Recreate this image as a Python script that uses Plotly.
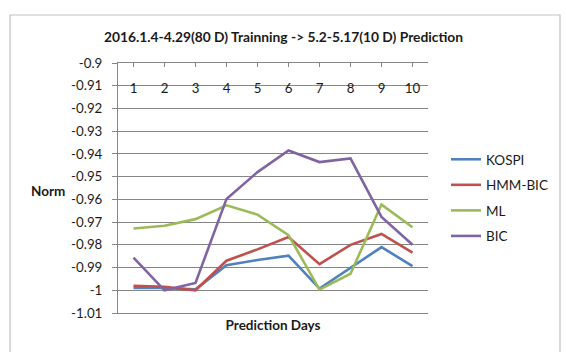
import plotly.graph_objects as go

days = [1, 2, 3, 4, 5, 6, 7, 8, 9, 10]
day_labels = ["1", "2", "3", "4", "5", "6", "7", "8", "9", "10"]
kospi = [-0.999, -0.999, -0.9996, -0.989, -0.9867, -0.9848, -0.9993, -0.990, -0.981, -0.9894]
hmm_bic = [-0.998, -0.9985, -1.0, -0.987, -0.982, -0.9766, -0.9885, -0.980, -0.9752, -0.9834]
ml = [-0.9728, -0.9716, -0.9687, -0.9626, -0.9667, -0.9757, -0.9997, -0.9927, -0.9623, -0.9723]
bic = [-0.9856, -1.0, -0.9968, -0.9598, -0.948, -0.9385, -0.9436, -0.942, -0.9677, -0.980]
y_ticks = [-0.9, -0.91, -0.92, -0.93, -0.94, -0.95, -0.96, -0.97, -0.98, -0.99, -1.0, -1.01]
y_tick_labels = ["-0.9", "-0.91", "-0.92", "-0.93", "-0.94", "-0.95", "-0.96", "-0.97",
                 "-0.98", "-0.99", "-1", "-1.01"]

series = [("KOSPI", kospi, "#4F81BD"), ("HMM-BIC", hmm_bic, "#C0504D"),
          ("ML", ml, "#9BBB59"), ("BIC", bic, "#8064A2")]

FONT = "Lato, 'Liberation Sans', sans-serif"
fig = go.Figure()
for name, vals, col in series:
    fig.add_trace(go.Scatter(x=days, y=vals, name=name, mode="lines",
                             line=dict(color=col, width=2.6), legendgroup=name))

W, H = 566, 352
L, R, T, B = 118, 138, 63, 39
ph = H - T - B
pw = W - L - R

def py(pix):
    return 1 - (pix - T) / ph

def px(pix):
    return (pix - L) / pw

fig.update_layout(
    width=W, height=H,
    margin=dict(l=L, r=R, t=T, b=B),
    paper_bgcolor="white", plot_bgcolor="white",
    font=dict(family=FONT, size=13, color="#1a1a1a"),
    title=dict(text="<b>2016.1.4-4.29(80 D) Trainning -> 5.2-5.17(10 D) Prediction</b>",
               xref="container", x=283.5 / W, xanchor="center", y=1 - 37 / H, yanchor="middle",
               font=dict(size=13.8, family=FONT)),
    showlegend=True,
    legend=dict(x=px(446), y=py(144), xanchor="left", yanchor="top",
                font=dict(size=13.5, family=FONT), tracegroupgap=5,
                itemwidth=30, bgcolor="rgba(0,0,0,0)"),
    xaxis=dict(range=[0.5, 10.5], tickvals=days, ticktext=["" for _ in days],
               showgrid=False, showline=True, linecolor="#868686", linewidth=1,
               ticks="", zeroline=False,
               title=dict(text="<b>Prediction Days</b>", standoff=4,
                          font=dict(size=13.5, family=FONT))),
    xaxis2=dict(range=[0.5, 10.5], overlaying="x", anchor="free", position=py(79),
                side="bottom", tickvals=days, ticktext=day_labels, showgrid=False,
                showline=False, ticks="", zeroline=False, tickfont=dict(size=13.3)),
    xaxis3=dict(range=[0.5, 10.5], overlaying="x", anchor="y", side="top",
                tickvals=days, showticklabels=False, showgrid=False, showline=True,
                linecolor="#868686", linewidth=1, ticks="inside", tickson="boundaries",
                ticklen=4, tickcolor="#868686", zeroline=False),
    yaxis=dict(range=[-1.01, -0.9], tickvals=y_ticks, ticktext=y_tick_labels,
               showgrid=True, gridcolor="#868686", gridwidth=1, showline=True,
               linecolor="#868686", ticks="outside", ticklen=5, tickcolor="#868686",
               zeroline=False, ticklabelstandoff=7, tickfont=dict(size=13.3)),
    shapes=[dict(type="rect", xref="paper", yref="paper",
                 x0=px(10), x1=px(560), y0=py(360), y1=py(15),
                 line=dict(color="#BFBFBF", width=1.2), fillcolor="rgba(0,0,0,0)",
                 layer="below")],
    annotations=[dict(text="<b>Norm</b>", xref="paper", yref="paper",
                      x=px(48), y=py(191), showarrow=False, xanchor="center",
                      yanchor="middle", font=dict(size=13.5, family=FONT))],
)
# dummy traces to activate extra axes
fig.add_trace(go.Scatter(x=[None], y=[None], xaxis="x2", showlegend=False, hoverinfo="skip"))
fig.add_trace(go.Scatter(x=[None], y=[None], xaxis="x3", showlegend=False, hoverinfo="skip"))

fig.write_html("out.html")
